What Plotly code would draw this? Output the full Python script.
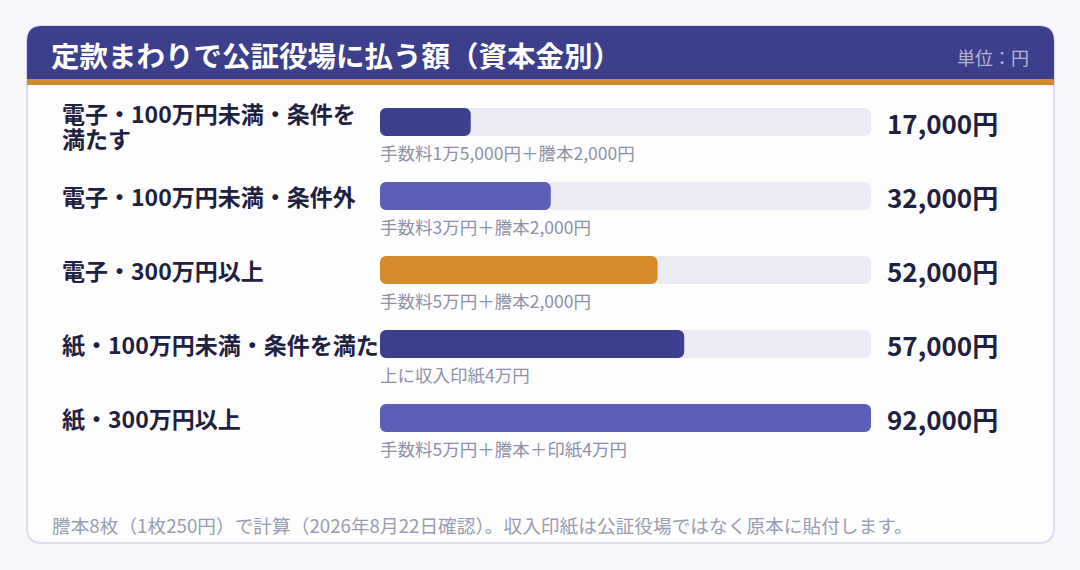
"""
定款まわりで公証役場に払う額（資本金別） — horizontal bar card.
"""

import plotly.graph_objects as go

W, H = 1080, 570

# ── data ─────────────────────────────────────────────
categories = [
    "電子・100万円未満・条件を<br>満たす",
    "電子・100万円未満・条件外",
    "電子・300万円以上",
    "紙・100万円未満・条件を満た",
    "紙・300万円以上",
]
amounts = [17000, 32000, 52000, 57000, 92000]
value_labels = ["17,000円", "32,000円", "52,000円", "57,000円", "92,000円"]
breakdowns = [
    "手数料1万5,000円＋謄本2,000円",
    "手数料3万円＋謄本2,000円",
    "手数料5万円＋謄本2,000円",
    "上に収入印紙4万円",
    "手数料5万円＋謄本＋印紙4万円",
]
bar_colors = ["#3c3f8c", "#5b5fb5", "#d4892b", "#3c3f8c", "#5b5fb5"]

TITLE = "定款まわりで公証役場に払う額（資本金別）"
UNIT = "単位：円"
NOTE = "謄本8枚（1枚250円）で計算（2026年8月22日確認）。収入印紙は公証役場ではなく原本に貼付します。"

FONT = "Noto Sans CJK JP"


def px_x(v):
    return v / W


def px_y(v):
    return 1 - v / H


def rounded_path(x0, y0, x1, y1, r_top, r_bot):
    """SVG path in paper units from pixel box (y down)."""
    def P(x, y):
        return f"{px_x(x):.5f},{px_y(y):.5f}"
    return (
        f"M {P(x0 + r_top, y0)} L {P(x1 - r_top, y0)} Q {P(x1, y0)} {P(x1, y0 + r_top)} "
        f"L {P(x1, y1 - r_bot)} Q {P(x1, y1)} {P(x1 - r_bot, y1)} "
        f"L {P(x0 + r_bot, y1)} Q {P(x0, y1)} {P(x0, y1 - r_bot)} "
        f"L {P(x0, y0 + r_top)} Q {P(x0, y0)} {P(x0 + r_top, y0)} Z"
    )


# card geometry (pixels)
CX0, CY0, CX1, CY1 = 27, 26, 1054, 543
HEAD_B = 79
TRACK_X0, TRACK_X1 = 380, 871
ROW_TOP, ROW_BOT = 85, 455

fig = go.Figure()

# explicit base -> plotly rounds both ends of the bar
zero_base = [0] * len(amounts)
fig.add_trace(go.Bar(
    y=categories, x=[max(amounts)] * len(amounts), base=zero_base, orientation="h",
    marker=dict(color="#ebebf3", line=dict(width=0)),
    width=0.38, hoverinfo="skip", showlegend=False,
))
fig.add_trace(go.Bar(
    y=categories, x=amounts, base=zero_base, orientation="h",
    marker=dict(color=bar_colors, line=dict(width=0)),
    width=0.38, showlegend=False,
    hovertemplate="%{y}: %{x:,}円<extra></extra>",
))

shapes = [
    # card body
    dict(type="path", xref="paper", yref="paper", layer="below",
         path=rounded_path(CX0, CY0, CX1, CY1, 15, 15),
         fillcolor="#fdfdfe", line=dict(color="#dcdcee", width=2)),
    # header
    dict(type="path", xref="paper", yref="paper", layer="below",
         path=rounded_path(CX0, CY0, CX1, HEAD_B, 15, 0),
         fillcolor="#3c3f8c", line=dict(width=0)),
    # orange stripe
    dict(type="rect", xref="paper", yref="paper", layer="below",
         x0=px_x(CX0), x1=px_x(CX1), y0=px_y(85), y1=px_y(HEAD_B),
         fillcolor="#d4892b", line=dict(width=0)),
]

annotations = [
    dict(text=f"<b>{TITLE}</b>", xref="paper", yref="paper",
         x=px_x(49), y=px_y(55), xanchor="left", yanchor="middle",
         showarrow=False, font=dict(family=FONT, size=28.5, color="#ffffff")),
    dict(text=UNIT, xref="paper", yref="paper",
         x=px_x(1031), y=px_y(57), xanchor="right", yanchor="middle",
         showarrow=False, font=dict(family=FONT, size=18, color="#b4b6d6")),
    dict(text=NOTE, xref="paper", yref="paper",
         x=px_x(50), y=px_y(524), xanchor="left", yanchor="middle",
         showarrow=False, font=dict(family=FONT, size=18.7, color="#9a9cb0")),
]

for cat, lab, sub in zip(categories, value_labels, breakdowns):
    lines = cat.split("<br>")
    # wrapped labels: one annotation per line, first line a bit above the bar centre
    shifts = [0] if len(lines) == 1 else [9, -16]
    for line, dy in zip(lines, shifts):
        annotations.append(dict(
            text=f"<b>{line}</b>", xref="paper", yref="y", x=px_x(60), y=cat,
            xanchor="left", yanchor="middle", align="left", showarrow=False,
            yshift=dy, font=dict(family=FONT, size=23, color="#1f2140"),
        ))
    annotations.append(dict(
        text=f"<b>{lab}</b>", xref="paper", yref="y", x=px_x(885), y=cat,
        xanchor="left", yanchor="middle", showarrow=False,
        font=dict(family=FONT, size=26, color="#1f2140"),
    ))
    annotations.append(dict(
        text=sub, xref="paper", yref="y", x=px_x(378), y=cat,
        xanchor="left", yanchor="middle", showarrow=False, yshift=-30,
        font=dict(family=FONT, size=17.5, color="#8e90a6"),
    ))

n = len(categories)
fig.update_layout(
    width=W, height=H,
    margin=dict(l=0, r=0, t=0, b=0),
    paper_bgcolor="#f7f7fb", plot_bgcolor="rgba(0,0,0,0)",
    barmode="overlay", barcornerradius=6,
    xaxis=dict(domain=[px_x(TRACK_X0), px_x(TRACK_X1)], range=[0, max(amounts)],
               visible=False, fixedrange=True),
    yaxis=dict(domain=[px_y(ROW_BOT), px_y(ROW_TOP)], range=[n - 0.5, -0.5],
               visible=False, fixedrange=True),
    shapes=shapes, annotations=annotations,
    font=dict(family=FONT),
)

fig.write_html("out.html", config={"displayModeBar": False},
               post_script="document.body.style.margin='0';")
